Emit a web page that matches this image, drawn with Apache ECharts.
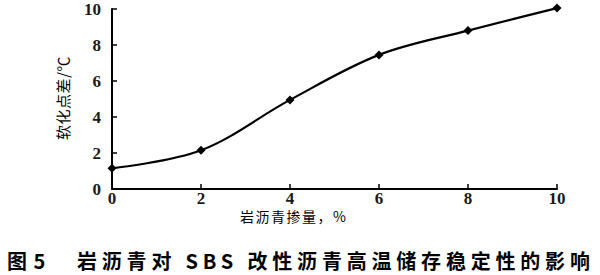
<!DOCTYPE html>
<html>
<head>
<meta charset="utf-8">
<script src="https://cdn.jsdelivr.net/npm/echarts@6/dist/echarts.min.js"></script>
<style>
  html, body { margin: 0; padding: 0; background: #fff; }
  #chart { width: 600px; height: 275px; }
  #chart text[fill="#010101"], #chart text[fill="rgb(1,1,1)"], #chart text[fill="rgb(1, 1, 1)"] { letter-spacing: 4.8px; }
  #chart text[fill="#020202"], #chart text[fill="rgb(2,2,2)"], #chart text[fill="rgb(2, 2, 2)"] { letter-spacing: 1.5px; }
  #chart text[fill="#030303"], #chart text[fill="rgb(3,3,3)"], #chart text[fill="rgb(3, 3, 3)"] { letter-spacing: 0.5px; }
  #chart text[fill="#040404"], #chart text[fill="rgb(4,4,4)"], #chart text[fill="rgb(4, 4, 4)"] { letter-spacing: 1px; }
</style>
</head>
<body>
<div id="chart"></div>
<script>
// Data
const dosagePercent = [0, 2, 4, 6, 8, 10];               // 岩沥青掺量，%
const softeningPointDiff = [1.15, 2.15, 4.95, 7.45, 8.8, 10.05]; // 软化点差/℃
const xTicks = [0, 2, 4, 6, 8, 10];
const yTicks = [0, 2, 4, 6, 8, 10];

const xAxisTitle = '岩沥青掺量，%';
const yAxisTitle = '软化点差/℃';
const captionNumber = '图 5';
const captionText = '岩沥青对 SBS 改性沥青高温储存稳定性的影响';

const chart = echarts.init(document.getElementById('chart'), null, { renderer: 'svg' });

const seriesData = dosagePercent.map((x, i) => [x, softeningPointDiff[i]]);
const tickFont = { fontFamily: 'Liberation Serif', fontSize: 17, fontWeight: 'bold', color: '#1a1a1a', lineHeight: 12 };

chart.setOption({
  animation: false,
  backgroundColor: '#ffffff',
  grid: { left: 112, right: 43, top: 9, bottom: 86, containLabel: false },
  xAxis: {
    type: 'value',
    min: xTicks[0],
    max: xTicks[xTicks.length - 1],
    interval: xTicks[1] - xTicks[0],
    axisLine: { lineStyle: { color: '#000', width: 2 } },
    axisTick: { inside: true, length: 5, lineStyle: { color: '#000', width: 1.5 } },
    axisLabel: Object.assign({ margin: 3 }, tickFont),
    splitLine: { show: false }
  },
  yAxis: {
    type: 'value',
    min: yTicks[0],
    max: yTicks[yTicks.length - 1],
    interval: yTicks[1] - yTicks[0],
    axisLine: { show: true, lineStyle: { color: '#000', width: 2 } },
    axisTick: { show: true, inside: true, length: 5, lineStyle: { color: '#000', width: 1.5 } },
    axisLabel: Object.assign({ margin: 11 }, tickFont),
    splitLine: { show: false }
  },
  series: [{
    type: 'line',
    data: seriesData,
    smooth: 0.35,
    clip: false,
    symbol: 'diamond',
    symbolSize: 9,
    itemStyle: { color: '#000' },
    lineStyle: { color: '#000', width: 2.2 }
  }],
  graphic: [
    {
      type: 'text', x: 240, y: 216,
      style: { text: xAxisTitle, fill: '#020202', font: '14px Noto Sans CJK SC, sans-serif', align: 'left', verticalAlign: 'middle' }
    },
    {
      type: 'text', x: 62, y: 98, rotation: Math.PI / 2,
      style: { text: yAxisTitle, fill: '#030303', font: '15px Noto Sans CJK SC, sans-serif', align: 'center', verticalAlign: 'middle' }
    },
    {
      type: 'text', x: 7, y: 260.5,
      style: { text: captionNumber, fill: '#040404', font: 'bold 20px Noto Sans CJK SC, sans-serif', align: 'left', verticalAlign: 'middle' }
    },
    {
      type: 'text', x: 77, y: 260.5,
      style: { text: captionText, fill: '#010101', font: 'bold 20px Noto Sans CJK SC, sans-serif', align: 'left', verticalAlign: 'middle' }
    }
  ]
});
</script>
</body>
</html>
